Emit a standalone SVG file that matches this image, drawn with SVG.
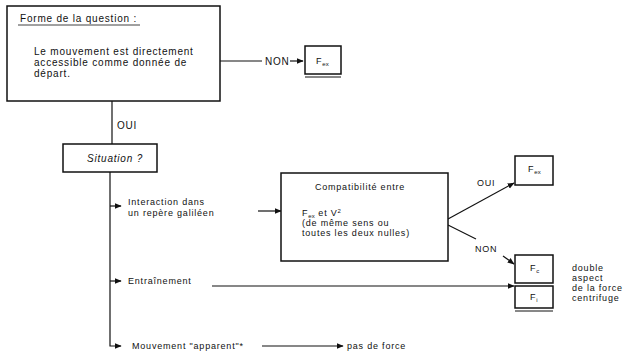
<svg xmlns="http://www.w3.org/2000/svg" width="624" height="354" viewBox="0 0 624 354">
  <style>
    text { font-family: "Liberation Sans", Arial, sans-serif; fill: #111; }
    .t { font-size: 10px; letter-spacing: 0.8px; }
    .s { font-size: 9px; letter-spacing: 0.8px; }
    .sub { font-size: 6px; letter-spacing: 0.2px; }
    .box { fill: #fff; stroke: #111; stroke-width: 1.5; }
    .ln { fill: none; stroke: #111; stroke-width: 1.2; }
  </style>
  <defs>
    <marker id="ah" viewBox="0 0 10 10" refX="9" refY="5" markerWidth="7" markerHeight="7" orient="auto" markerUnits="userSpaceOnUse">
      <path d="M0,1 L10,5 L0,9 Z" fill="#111"/>
    </marker>
  </defs>

  <rect width="624" height="354" fill="#fff"/>

  <!-- connectors -->
  <g id="connectors">
    <line class="ln" x1="220" y1="61" x2="262" y2="61"/>
    <line class="ln" x1="290" y1="61" x2="303" y2="61" marker-end="url(#ah)"/>
    <line class="ln" x1="112" y1="101" x2="112" y2="144"/>
    <polyline class="ln" points="110,172 110,346 121,346" marker-end="url(#ah)"/>
    <line class="ln" x1="110" y1="206" x2="121" y2="206" marker-end="url(#ah)"/>
    <line class="ln" x1="110" y1="281" x2="121" y2="281" marker-end="url(#ah)"/>
    <line class="ln" x1="258" y1="211" x2="281" y2="211" marker-end="url(#ah)"/>
    <line class="ln" x1="448" y1="219" x2="514" y2="183" marker-end="url(#ah)"/>
    <line class="ln" x1="448" y1="225" x2="476" y2="239"/>
    <line class="ln" x1="503" y1="256" x2="514" y2="264" marker-end="url(#ah)"/>
    <line class="ln" x1="212" y1="286" x2="514" y2="286" marker-end="url(#ah)"/>
    <line class="ln" x1="262" y1="346" x2="343" y2="346" marker-end="url(#ah)"/>
    <text class="t" x="265" y="65">NON</text>
    <text class="t" x="117" y="129">OUI</text>
    <text class="s" x="477" y="186">OUI</text>
    <text class="s" x="475" y="252">NON</text>
  </g>

  <!-- question box -->
  <g id="question">
    <rect class="box" x="7" y="6" width="213" height="95"/>
    <text class="t" x="20" y="22">Forme de la question :</text>
    <line x1="18" y1="25" x2="140" y2="25" stroke="#111" stroke-width="0.8"/>
    <text class="t" x="34" y="55">Le mouvement est directement</text>
    <text class="t" x="34" y="66">accessible comme donnée de</text>
    <text class="t" x="34" y="77">départ.</text>
  </g>

  <!-- result of NON -->
  <g id="f-ex-1">
    <rect class="box" x="305" y="46" width="36" height="28"/>
    <line x1="305" y1="77" x2="341" y2="77" stroke="#111" stroke-width="1"/>
    <text class="s" x="316" y="64">F<tspan class="sub" dy="2">ex</tspan></text>
  </g>

  <!-- situation box -->
  <g id="situation">
    <rect class="box" x="63" y="144" width="94" height="28"/>
    <text class="t" x="115" y="162" text-anchor="middle" font-style="italic">Situation ?</text>
  </g>

  <!-- branches -->
  <g id="interaction">
    <text class="s" x="128" y="205">Interaction dans</text>
    <text class="s" x="128" y="216">un repère galiléen</text>
  </g>
  <g id="entrainement">
    <text class="s" x="128" y="284">Entraînement</text>
  </g>
  <g id="mouvement">
    <text class="s" x="132" y="349">Mouvement "apparent"*</text>
  </g>
  <g id="pas-de-force">
    <text class="s" x="347" y="349">pas de force</text>
  </g>

  <!-- compatibility box -->
  <g id="compatibilite">
    <rect class="box" x="281" y="173" width="167" height="88"/>
    <text class="s" x="360" y="190" text-anchor="middle">Compatibilité entre</text>
    <text class="s" x="302" y="216">F<tspan class="sub" dy="2">ex</tspan><tspan dy="-2"> et V</tspan><tspan class="sub" dy="-3">2</tspan></text>
    <text class="s" x="302" y="226">(de même sens ou</text>
    <text class="s" x="302" y="236">toutes les deux nulles)</text>
  </g>

  <!-- result of OUI -->
  <g id="f-ex-2">
    <rect class="box" x="515" y="156" width="38" height="29"/>
    <text class="s" x="528" y="172">F<tspan class="sub" dy="2">ex</tspan></text>
  </g>

  <!-- double result box -->
  <g id="f-c-f-i">
    <rect class="box" x="515" y="255" width="38" height="28"/>
    <rect class="box" x="515" y="286" width="38" height="22"/>
    <line x1="515" y1="311" x2="553" y2="311" stroke="#111" stroke-width="1"/>
    <text class="s" x="530" y="271">F<tspan class="sub" dy="2">c</tspan></text>
    <text class="s" x="530" y="300">F<tspan class="sub" dy="2">i</tspan></text>
  </g>

  <g id="note">
    <text class="s" x="572" y="271">double</text>
    <text class="s" x="572" y="281">aspect</text>
    <text class="s" x="572" y="291">de la force</text>
    <text class="s" x="572" y="301">centrifuge</text>
  </g>
</svg>
